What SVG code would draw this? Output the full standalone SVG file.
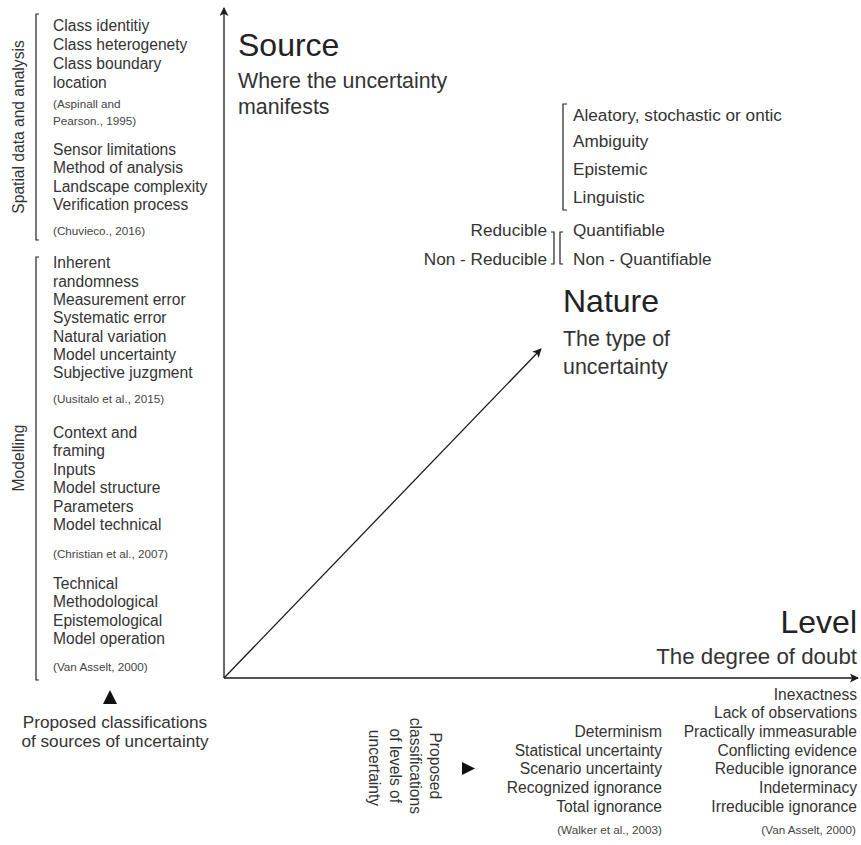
<svg xmlns="http://www.w3.org/2000/svg" width="861" height="845" viewBox="0 0 861 845">
  <style>
    text { font-family: "Liberation Sans", Arial, sans-serif; fill: #333333; }
    .item { font-size: 15.6px; }
    .item-lg { font-size: 17.2px; }
    .cite { font-size: 11.7px; fill: #444444; }
    .title { font-size: 32px; fill: #222222; }
    .sub { font-size: 21.4px; }
    .sub-lg { font-size: 22.3px; }
    .end { text-anchor: end; }
    .mid { text-anchor: middle; }
    .axis { stroke: #1a1a1a; stroke-width: 1.3; fill: none; }
    .brk { stroke: #222222; stroke-width: 1.2; fill: none; }
    .tri { fill: #111111; }
  </style>
  <defs>
    <marker id="arrow" viewBox="0 0 10 10" refX="9" refY="5" markerWidth="9" markerHeight="9" markerUnits="userSpaceOnUse" orient="auto">
      <path d="M0,0 L10,5 L0,10 L2.5,5 Z" fill="#1a1a1a"/>
    </marker>
  </defs>

  <!-- axes -->
  <g id="connectors">
    <line class="axis" x1="224" y1="678" x2="224" y2="8" marker-end="url(#arrow)"/>
    <line class="axis" x1="224" y1="678" x2="858" y2="678" marker-end="url(#arrow)"/>
    <line class="axis" x1="224" y1="678" x2="541" y2="349" marker-end="url(#arrow)"/>
  </g>

  <!-- Source axis label -->
  <g id="source">
    <text class="title" x="238" y="56">Source</text>
    <text class="sub" x="238" y="87.5">Where the uncertainty</text>
    <text class="sub" x="238" y="113.5">manifests</text>
  </g>

  <!-- Nature axis label -->
  <g id="nature">
    <text class="title" x="563" y="312">Nature</text>
    <text class="sub" x="563" y="345.5">The type of</text>
    <text class="sub" x="563" y="373.5">uncertainty</text>
  </g>

  <!-- Level axis label -->
  <g id="level">
    <text class="title end" x="857" y="633">Level</text>
    <text class="sub-lg end" x="857" y="663.5">The degree of doubt</text>
  </g>

  <!-- types of uncertainty -->
  <g id="nature-types">
    <path class="brk" d="M567,104 H563 V210 H567"/>
    <text class="item-lg" x="573" y="121">Aleatory, stochastic or ontic</text>
    <text class="item-lg" x="573" y="147">Ambiguity</text>
    <text class="item-lg" x="573" y="175">Epistemic</text>
    <text class="item-lg" x="573" y="203">Linguistic</text>
  </g>

  <g id="reducibility">
    <path class="brk" d="M551,232 H554 V264 H551"/>
    <path class="brk" d="M563,232 H560 V264 H563"/>
    <text class="item-lg end" x="547" y="236">Reducible</text>
    <text class="item-lg end" x="547" y="265">Non - Reducible</text>
    <text class="item-lg" x="573" y="236">Quantifiable</text>
    <text class="item-lg" x="573" y="265">Non - Quantifiable</text>
  </g>

  <!-- sources: spatial data and analysis -->
  <g id="spatial">
    <path class="brk" d="M39,14 H36 V240 H39"/>
    <text class="item mid" transform="translate(23.5,127) rotate(-90)">Spatial data and analysis</text>
    <text class="item" x="53" y="31">Class identitiy</text>
    <text class="item" x="53" y="50">Class heterogenety</text>
    <text class="item" x="53" y="69">Class boundary</text>
    <text class="item" x="53" y="88">location</text>
    <text class="cite" x="53" y="108">(Aspinall and</text>
    <text class="cite" x="53" y="125">Pearson., 1995)</text>
    <text class="item" x="53" y="154.5">Sensor limitations</text>
    <text class="item" x="53" y="173">Method of analysis</text>
    <text class="item" x="53" y="191.5">Landscape complexity</text>
    <text class="item" x="53" y="210">Verification process</text>
    <text class="cite" x="53" y="235">(Chuvieco., 2016)</text>
  </g>

  <!-- sources: modelling -->
  <g id="modelling">
    <path class="brk" d="M39,257 H36 V680 H39"/>
    <text class="item mid" transform="translate(23.5,458) rotate(-90)">Modelling</text>
    <text class="item" x="53" y="268">Inherent</text>
    <text class="item" x="53" y="286.5">randomness</text>
    <text class="item" x="53" y="305">Measurement error</text>
    <text class="item" x="53" y="323">Systematic error</text>
    <text class="item" x="53" y="341.5">Natural variation</text>
    <text class="item" x="53" y="360">Model uncertainty</text>
    <text class="item" x="53" y="378">Subjective juzgment</text>
    <text class="cite" x="53" y="403">(Uusitalo et al., 2015)</text>
    <text class="item" x="53" y="437.5">Context and</text>
    <text class="item" x="53" y="456">framing</text>
    <text class="item" x="53" y="474.5">Inputs</text>
    <text class="item" x="53" y="493">Model structure</text>
    <text class="item" x="53" y="511.5">Parameters</text>
    <text class="item" x="53" y="530">Model technical</text>
    <text class="cite" x="53" y="558">(Christian et al., 2007)</text>
    <text class="item" x="53" y="588.5">Technical</text>
    <text class="item" x="53" y="607">Methodological</text>
    <text class="item" x="53" y="625.5">Epistemological</text>
    <text class="item" x="53" y="644">Model operation</text>
    <text class="cite" x="53" y="671">(Van Asselt, 2000)</text>
  </g>

  <!-- caption for sources -->
  <g id="sources-caption">
    <polygon class="tri" points="110,690 103,704 117,704"/>
    <text class="item-lg mid" x="115" y="728">Proposed classifications</text>
    <text class="item-lg mid" x="115" y="747">of sources of uncertainty</text>
  </g>

  <!-- caption for levels -->
  <g id="levels-caption">
    <text class="item mid" transform="translate(436,768) rotate(90)">
      <tspan x="0" y="5.6">Proposed</tspan>
      <tspan x="0" y="26">classifications</tspan>
      <tspan x="0" y="46.5">of levels of</tspan>
      <tspan x="0" y="67">uncertainty</tspan>
    </text>
    <polygon class="tri" points="462,762 462,775 475,768.5"/>
  </g>

  <!-- levels: Walker et al. -->
  <g id="levels-walker">
    <text class="item end" x="662" y="737">Determinism</text>
    <text class="item end" x="662" y="755.7">Statistical uncertainty</text>
    <text class="item end" x="662" y="774.4">Scenario uncertainty</text>
    <text class="item end" x="662" y="793">Recognized ignorance</text>
    <text class="item end" x="662" y="811.7">Total ignorance</text>
    <text class="cite end" x="662" y="834">(Walker et al., 2003)</text>
  </g>

  <!-- levels: Van Asselt -->
  <g id="levels-vanasselt">
    <text class="item end" x="857" y="699.5">Inexactness</text>
    <text class="item end" x="857" y="718.2">Lack of observations</text>
    <text class="item end" x="857" y="737">Practically immeasurable</text>
    <text class="item end" x="857" y="755.7">Conflicting evidence</text>
    <text class="item end" x="857" y="774.4">Reducible ignorance</text>
    <text class="item end" x="857" y="793">Indeterminacy</text>
    <text class="item end" x="857" y="811.7">Irreducible ignorance</text>
    <text class="cite end" x="856" y="834">(Van Asselt, 2000)</text>
  </g>
</svg>
